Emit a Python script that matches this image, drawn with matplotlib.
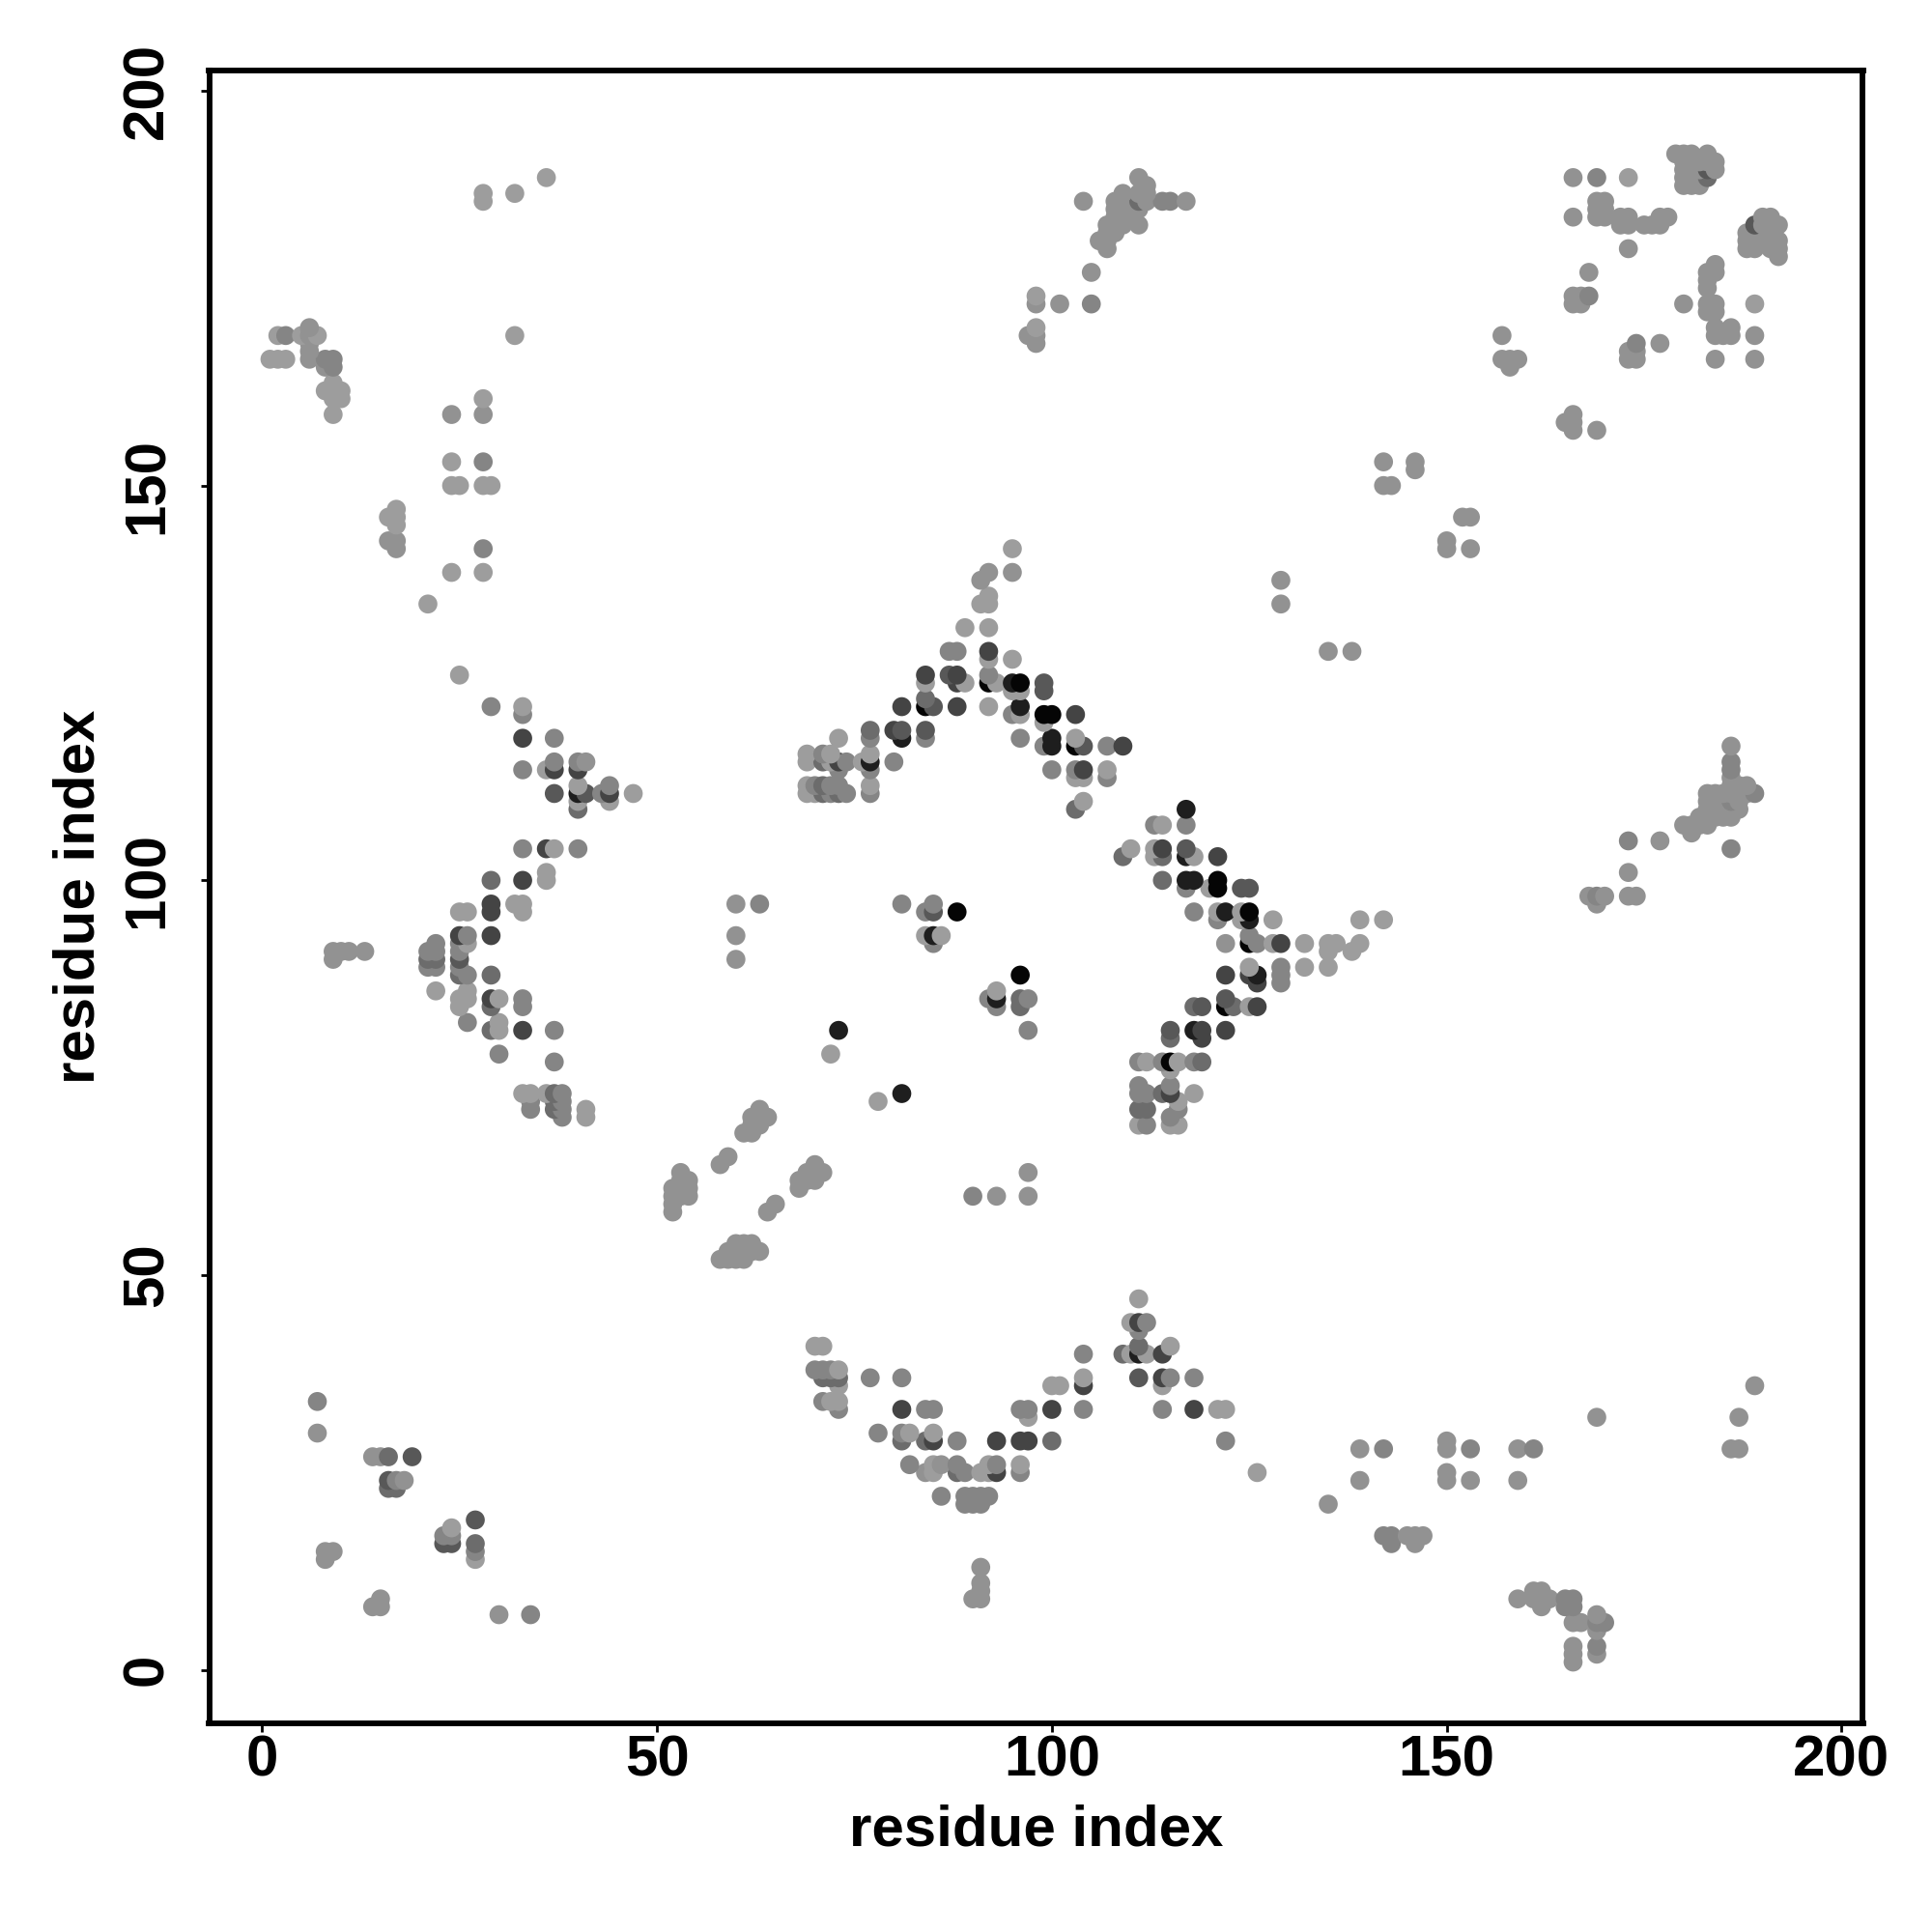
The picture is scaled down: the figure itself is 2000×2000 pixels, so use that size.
import numpy as np
import matplotlib
matplotlib.use("Agg")
import matplotlib.pyplot as plt

plt.rcParams['font.family'] = ['Liberation Sans', 'DejaVu Sans']

# contacts (residue i, residue j), one list per grey tier
light = [
    (1,166),(2,166),(3,166),(2,169),(5,169),(7,169),(28,187),(28,186),(32,187),(36,189),(32,169),
    (9,163),(8,162),(9,162),(10,162),(9,161),(10,161),(9,159),(28,161),(24,153),(24,150),(25,150),
    (28,150),(29,150),(17,147),(16,146),(17,146),(17,145),(24,139),(28,139),(21,135),
    (98,174),(98,170),(92,136),(92,135),(91,135),(89,132),(92,132),(95,142),(173,189),(189,173),
    (25,126),(33,122),(36,114),(40,112),(40,110),(44,110),(47,111),(36,101),(36,100),(32,97),(33,97),
    (33,96),(25,96),(26,96),(26,92),(22,86),(26,86),(26,85),(25,85),(25,84),(30,85),(30,82),(30,81),
    (34,73),(33,73),(36,73),(41,71),(41,70),(37,104),
    (92,128),(95,128),(84,125),(89,125),(93,125),(95,124),(96,124),(92,122),(96,121),(99,120),
    (103,118),(73,118),(69,116),(69,115),(72,116),(72,115),(76,115),(77,116),(104,113),(103,113),
    (107,114),(104,110),(69,112),(69,111),(70,111),(77,112),
    (110,104),(113,104),(113,103),(114,107),(118,103),(120,99),(121,96),(84,93),(86,93),
    (93,86),(72,78),(78,72),(112,77),(116,77),(118,73),(116,72),(115,69),(116,69),(111,69),
    (124,96),(124,95),(128,95),(139,95),(142,95),(128,92),(132,92),(135,92),(136,92),(135,91),(138,91),
    (139,92),(132,89),(135,89),(125,89),(125,84),(115,76),
    (70,41),(71,41),(73,38),(73,36),(72,34),(73,34),(100,36),(101,36),(104,37),(97,32),(110,44),(111,47),
    (110,40),(112,40),(115,41),(114,36),(121,33),(122,33),(82,30),(85,30),(85,26),(85,25),
    (92,26),(92,25),(91,25),(96,26),(126,25),(27,14),(24,18),
]
soft = [
    (6,170),(6,169),(6,168),(6,167),(6,166),(8,165),(16,143),(17,143),(17,142),(28,159),(24,159),
    (111,189),(112,188),(109,187),(108,186),(104,186),(117,186),(112,187),(112,186),(111,187),(109,186),
    (108,185),(109,185),(110,185),(111,185),(108,184),(109,184),(110,184),(111,183),(107,183),(108,183),
    (109,183),(107,182),(108,182),(106,181),(107,181),(107,180),(105,177),(101,173),(98,173),(98,169),
    (97,169),(98,168),(92,139),(91,138),(95,139),(129,138),(129,135),
    (166,189),(169,186),(170,186),(166,184),(169,184),(170,184),(169,185),(170,185),(172,184),(173,184),
    (172,183),(173,183),(175,183),(176,183),(177,183),(177,184),(178,184),(173,180),(168,177),(166,174),
    (167,174),(166,173),(167,173),(157,169),(157,166),(158,166),(159,166),(158,165),(173,167),(174,167),
    (173,166),(174,166),(177,168),(184,166),(189,166),(189,169),(184,169),(185,169),(186,170),(186,169),
    (184,170),(180,173),(183,173),(184,173),(183,172),(184,172),(183,175),(183,176),(183,177),(184,177),
    (184,178),(179,192),(180,192),(181,192),(183,192),(184,191),(180,191),(181,191),(182,191),(183,191),
    (180,190),(181,190),(182,190),(184,190),(180,189),(181,189),(182,189),(180,188),(181,188),(182,188),
    (190,184),(191,184),(190,183),(191,183),(192,183),(188,182),(189,182),(190,182),(188,181),(189,181),
    (191,181),(192,181),(188,180),(189,180),(191,180),(192,180),(192,179),(166,159),(165,158),(166,158),
    (166,157),(169,157),(142,153),(146,153),(146,152),(142,150),(143,150),(152,146),(153,146),(150,143),
    (150,142),(153,142),(135,129),(138,129),
    (9,91),(10,91),(11,91),(13,91),(9,90),(8,15),(9,15),(8,14),(15,9),(14,8),(15,8),(30,7),
    (63,71),(62,70),(63,70),(64,70),(61,68),(62,68),(62,69),(63,69),(59,65),(58,64),(53,63),(54,62),(53,62),
    (52,61),(53,61),(54,61),(52,60),(53,60),(54,60),(52,59),(52,58),(70,64),(71,63),(69,63),(70,63),(68,62),
    (69,62),(70,62),(68,61),(65,59),(64,58),(60,54),(61,54),(62,54),(63,53),(59,53),(60,53),(61,53),(62,53),
    (59,52),(60,52),(61,52),(58,52),(93,60),(97,63),(97,60),(60,97),(60,93),(60,90),
    (135,21),(139,28),(139,24),(150,29),(150,28),(150,25),(150,24),(153,24),(159,28),(159,24),(169,32),
    (187,32),(189,36),(186,28),(187,28),(145,17),(146,17),(147,17),(146,16),(159,9),(161,10),(162,10),(161,9),
    (162,9),(163,9),(162,8),(166,6),(167,6),(169,7),(169,5),(166,3),(166,2),(166,1),(169,2),
    (186,117),(186,113),(186,112),(187,112),(188,112),(188,111),(183,111),(184,111),(185,111),(186,111),(187,111),
    (183,110),(184,110),(185,110),(187,110),(187,109),(186,109),(185,109),(184,109),(183,109),(182,108),(183,108),
    (184,108),(185,108),(186,108),(180,107),(181,107),(182,107),(183,107),(181,106),(177,105),(173,101),(168,98),
    (170,98),(169,97),(173,98),(174,98),
    (91,13),(91,11),(91,10),(90,9),(91,9),(86,26),(7,30),(84,25),(41,115),(14,27),(15,27),(18,24),(122,92),
]
mid = [
    (3,169),(8,166),(9,166),(9,165),(28,153),(28,142),(114,186),(115,186),(105,173),(186,115),(186,114),
    (169,189),(174,168),(168,174),(186,104),(173,105),(169,98),(186,110),(189,111),(142,28),(153,28),
    (142,17),(143,17),(143,16),(165,9),(166,9),(165,8),(166,8),(170,6),(169,6),(169,3),(161,28),
    (37,118),(33,114),(37,115),(40,115),(29,122),(33,121),(33,104),(40,104),(33,85),(33,84),(26,93),(25,92),
    (22,92),(21,91),(22,91),(21,89),(22,89),(25,91),(25,89),(26,88),(26,82),(37,81),(30,78),(37,77),
    (34,71),(34,72),(38,73),(38,72),(38,71),(38,70),(44,112),(43,111),
    (87,129),(88,129),(96,118),(92,126),(95,121),(99,117),(107,117),(77,118),(74,115),(73,114),(71,116),
    (77,114),(80,115),(100,114),(103,114),(107,113),(84,118),(74,111),(73,112),(72,112),(72,111),(77,111),(70,112),
    (113,107),(117,107),(118,96),(121,95),(117,99),(81,97),(84,96),(85,97),(85,92),(92,85),(93,84),(97,85),(97,81),
    (63,97),(111,77),(114,77),(118,77),(115,74),(111,73),(112,73),(115,70),(116,71),(111,74),(112,69),
    (125,93),(126,92),(129,89),(129,88),(129,87),(90,60),(7,34),
    (71,38),(72,38),(70,38),(71,34),(73,33),(77,37),(81,37),(84,33),(85,33),(96,33),(97,33),(104,33),(104,40),
    (112,44),(111,43),(115,37),(114,33),(118,37),(122,29),(78,30),(81,30),(82,26),(88,29),(88,26),(89,25),(96,25),
    (93,26),(86,22),(89,22),(90,22),(91,22),(92,22),(89,21),(90,21),(91,21),(27,15),(34,7),(23,17),(24,17),(17,24),
]
mid_dark = [
    (111,186),(183,189),(16,27),(71,37),(72,37),(81,29),(84,29),(100,29),(88,25),
    (111,41),(109,40),(29,100),(22,90),(21,90),(25,88),(29,88),(29,84),(29,81),
    (37,73),(37,72),(37,71),(40,109),(77,119),(71,115),(71,112),(71,111),(73,111),(84,123),(103,109),
    (109,103),(114,103),(114,100),(118,84),(115,80),(123,84),(119,77),(114,73),(111,71),(112,71),(96,84),
    (96,85),(27,16),(17,23),(73,37),(16,23),
]
dark_mid = [
    (37,111),(41,111),(84,119),(81,119),(85,122),(104,117),(99,125),(99,124),(87,126),(85,96),(117,104),
    (119,84),(115,81),(124,99),(125,99),(122,85),(111,37),(16,24),(23,16),(24,16),
    (189,183),(183,190),(25,90),(19,27),(27,19),
]
dark = [
    (33,118),(37,114),(40,114),(44,111),(36,104),(33,100),(29,97),(29,96),(25,93),(29,93),(29,85),(33,81),
    (84,126),(88,126),(88,125),(92,129),(81,122),(88,122),(103,121),(80,119),(73,115),(109,117),(104,114),
    (114,104),(121,103),(122,81),(119,81),(119,80),(126,87),(126,84),(122,88),(125,88),(129,92),(100,33),(93,25),
    (85,29),(93,29),(96,29),(97,29),(81,33),(118,33),(111,44),(104,36),(114,40),(114,37),(115,73),
]
very_dark = [
    (95,125),(96,122),(100,118),(100,117),(81,118),(117,109),(117,103),(117,100),(118,100),(122,96),(125,95),
    (118,81),(126,88),(93,85),(85,93),(73,81),(81,73),(111,40),(77,115),(40,111),
]
black = [
    (92,125),(96,125),(84,122),(99,121),(100,121),(103,117),(121,100),(121,99),(88,96),(96,88),(125,96),
    (125,92),(122,84),(115,77),
]

x_ticks = [0, 50, 100, 150, 200]
y_ticks = [0, 50, 100, 150, 200]

tiers = [light, soft, mid, mid_dark, dark_mid, dark, very_dark, black]
shades = ['#9d9d9d', '#929292', '#858585', '#6c6c6c', '#585858', '#444444', '#1e1e1e', '#050505']

# the darkest tier wins if a contact got listed twice
contacts = {}
for pts, shade in zip(tiers, shades):
    for p in pts:
        contacts[p] = shade

# points are stacked by row then column, as in the original
order = sorted(contacts, key=lambda p: (p[1], p[0]))
xs = np.array([p[0] for p in order])
ys = np.array([p[1] for p in order])
cols = [contacts[p] for p in order]

fig = plt.figure(figsize=(10, 10), dpi=200)
ax = fig.add_axes([216.5/2000, 1 - 1784/2000, 1712/2000, 1711.3/2000])

ax.scatter(xs, ys, s=50, c=cols, linewidths=0)

ax.set_xlim(-6.7, 202.7)
ax.set_ylim(-6.76, 202.6)
ax.set_xticks(x_ticks)
ax.set_yticks(y_ticks)

for s in ax.spines.values():
    s.set_linewidth(2.1)
    s.set_capstyle('projecting')

ax.tick_params(axis='x', length=3.2, width=1, pad=1, labelsize=21.6)
ax.tick_params(axis='y', length=3.2, width=1, pad=9.8, labelsize=21.6)
for t in ax.get_xticklabels() + ax.get_yticklabels():
    t.set_fontweight('bold')
for t in ax.get_yticklabels():
    t.set_rotation(90)
    t.set_va('center')

ax.set_xlabel('residue index', fontsize=21.6, fontweight='bold', va='center')
ax.set_ylabel('residue index', fontsize=21.6, fontweight='bold', va='center')
ax.xaxis.set_label_coords(0.5, -0.0646)
ax.yaxis.set_label_coords(-0.0788, 0.5)

fig.savefig('out.png', dpi=200, facecolor='white')
